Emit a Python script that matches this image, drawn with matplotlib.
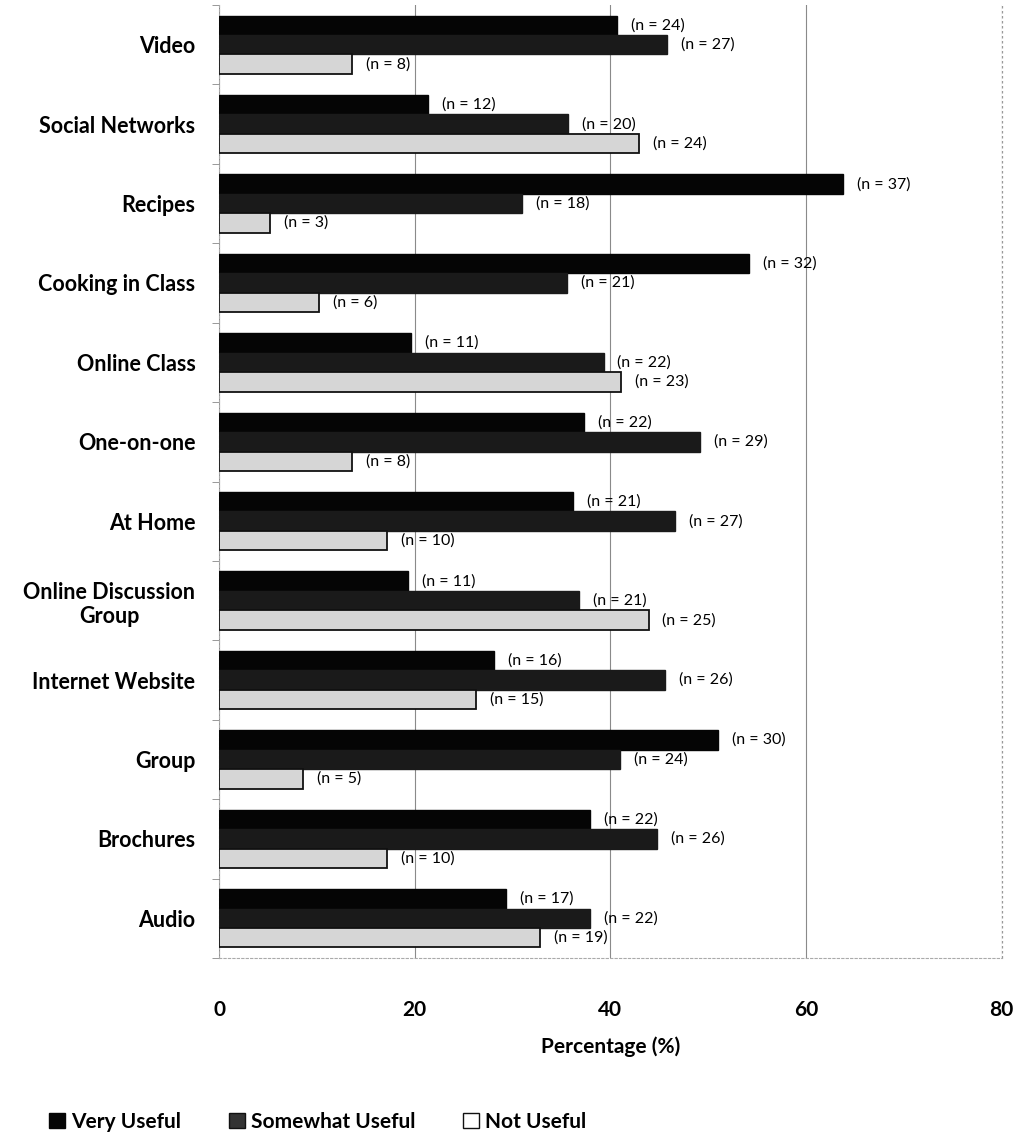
import matplotlib
matplotlib.use("Agg")
import matplotlib.pyplot as plt
from matplotlib.patches import Patch
import numpy as np

categories = ["Video", "Social Networks", "Recipes", "Cooking in Class",
              "Online Class", "One-on-one", "At Home",
              "Online Discussion\nGroup", "Internet Website", "Group",
              "Brochures", "Audio"]

# percentages
very_useful = [40.7, 21.4, 63.8, 54.2, 19.6, 37.3, 36.2, 19.3, 28.1, 51.0, 37.9, 29.3]
somewhat_useful = [45.8, 35.7, 31.0, 35.6, 39.3, 49.2, 46.6, 36.8, 45.6, 41.0, 44.8, 37.9]
not_useful = [13.6, 42.9, 5.2, 10.2, 41.1, 13.6, 17.2, 43.9, 26.3, 8.6, 17.2, 32.8]

# counts shown as labels
very_n = [24, 12, 37, 32, 11, 22, 21, 11, 16, 30, 22, 17]
somewhat_n = [27, 20, 18, 21, 22, 29, 27, 21, 26, 24, 26, 22]
not_n = [8, 24, 3, 6, 23, 8, 10, 25, 15, 5, 10, 19]

series = ["Very Useful", "Somewhat Useful", "Not Useful"]

plt.rcParams["font.family"] = ["Lato", "DejaVu Sans"]

fig = plt.figure(figsize=(10.19, 11.44), dpi=100)
ax = fig.add_axes([0.215, 0.1626, 0.768, 0.833])

y = np.arange(len(categories))
h = 0.245

styles = [
    dict(color="#050505", edgecolor="#050505"),
    dict(color="#1a1a1a", edgecolor="#1a1a1a"),
    dict(color="#d6d6d6", edgecolor="#111111", linewidth=1.3),
]
data = [very_useful, somewhat_useful, not_useful]
counts = [very_n, somewhat_n, not_n]

for i in range(3):
    bars = ax.barh(y + (i - 1) * h, data[i], height=h, zorder=3, **styles[i])
    for b, n in zip(bars, counts[i]):
        ax.annotate("(n = %d)" % n, (b.get_width(), b.get_y() + b.get_height() / 2),
                    xytext=(10, 0), textcoords="offset points",
                    ha="left", va="center", fontsize=11.5, zorder=4)

ax.set_xlim(0, 80)
ax.set_ylim(len(categories) - 0.5, -0.5)
ax.set_xticks([0, 20, 40, 60, 80])
ax.set_yticks(y)
ax.set_yticklabels(categories, fontsize=15.5, fontweight="bold")
for lbl in ax.get_yticklabels():
    lbl.set_multialignment("center")
ax.set_yticks(np.arange(len(categories) + 1) - 0.5, minor=True)
ax.tick_params(axis="y", which="major", length=0, pad=17)
ax.tick_params(axis="y", which="minor", length=5, color="#888888", direction="out")
ax.tick_params(axis="x", length=0, pad=30, labelsize=15)
for lbl in ax.get_xticklabels():
    lbl.set_fontweight("bold")

ax.grid(axis="x", color="#8a8a8a", linewidth=0.8, zorder=0)
# right-most gridline sits on the axes edge, draw it unclipped
ax.axvline(80, color="#999999", linewidth=0.9, linestyle=(0, (2, 2)),
           zorder=0, clip_on=False)
for s in ["top", "right"]:
    ax.spines[s].set_visible(False)
ax.spines["left"].set_color("#aaaaaa")
ax.spines["left"].set_linestyle((0, (2, 2)))
ax.spines["bottom"].set_color("#aaaaaa")
ax.spines["bottom"].set_linestyle((0, (2, 2)))

ax.set_xlabel("Percentage (%)", fontsize=15, fontweight="bold", labelpad=12)

handles = [Patch(facecolor="#050505", edgecolor="#050505"),
           Patch(facecolor="#333333", edgecolor="#111111"),
           Patch(facecolor="white", edgecolor="#111111")]
fig.legend(handles, series, ncol=3, loc="lower left", bbox_to_anchor=(0.03, -0.006),
           frameon=False, handlelength=0.75, handleheight=0.75, handletextpad=0.3,
           columnspacing=2.3, prop=dict(size=15, weight="bold"))

fig.savefig("out.png", dpi=100)
